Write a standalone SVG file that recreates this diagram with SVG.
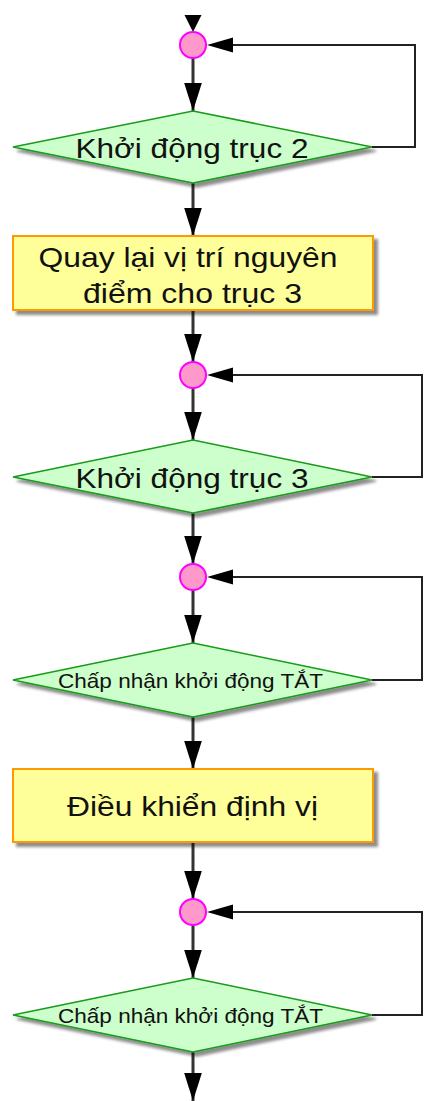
<svg xmlns="http://www.w3.org/2000/svg" width="424" height="1101" viewBox="0 0 424 1101">
<style>
.dia{fill:#ccffcc;stroke:#1a9a1a;stroke-width:1.6}
.box{fill:#ffff99;stroke:#ff9900;stroke-width:2}
.jn{fill:#ff99cc;stroke:#ff00ff;stroke-width:2}
.ln{fill:none;stroke:#333;stroke-width:3}
.lp{fill:none;stroke:#222;stroke-width:2}
.t{font-family:"Liberation Sans",Arial,sans-serif;fill:#111;text-anchor:middle}
.big{font-size:28px}
.sm{font-size:21px}
</style>
<defs>
<filter id="sh" x="-10%" y="-10%" width="130%" height="140%">
<feGaussianBlur in="SourceAlpha" stdDeviation="1.5"/>
<feOffset dx="4" dy="4" result="o"/>
<feFlood flood-color="#000" flood-opacity="0.45"/>
<feComposite in2="o" operator="in"/>
<feMerge><feMergeNode/><feMergeNode in="SourceGraphic"/></feMerge>
</filter>
<marker id="av" markerUnits="userSpaceOnUse" markerWidth="18" markerHeight="28" refX="8.5" refY="27" orient="0" viewBox="0 0 17 27">
<path d="M0,0 L17,0 L8.5,27 z" fill="#000"/>
</marker>
</defs>

<g id="connectors">
<path d="M184.5,15 L201.5,15 L193,32 z" fill="#000"/>
<path class="ln" d="M193,58 V111" marker-end="url(#av)"/>
<path class="lp" d="M372,147 H415 V45 H233"/>
<path d="M207,45 L233,37.5 L233,52.5 z" fill="#000"/>
<path class="ln" d="M193,183 V236" marker-end="url(#av)"/>
<path class="ln" d="M193,310 V362" marker-end="url(#av)"/>
<path class="ln" d="M193,388 V440" marker-end="url(#av)"/>
<path class="lp" d="M372,477 H422 V375 H233"/>
<path d="M207,375 L233,367.5 L233,382.5 z" fill="#000"/>
<path class="ln" d="M193,513 V564" marker-end="url(#av)"/>
<path class="ln" d="M193,590 V643" marker-end="url(#av)"/>
<path class="lp" d="M372,680 H422 V577 H233"/>
<path d="M207,577 L233,569.5 L233,584.5 z" fill="#000"/>
<path class="ln" d="M193,717 V769" marker-end="url(#av)"/>
<path class="ln" d="M193,842 V899" marker-end="url(#av)"/>
<path class="ln" d="M193,925 V978" marker-end="url(#av)"/>
<path class="lp" d="M372,1015 H422 V912 H233"/>
<path d="M207,912 L233,904.5 L233,919.5 z" fill="#000"/>
<path class="ln" d="M193,1052 V1101" marker-end="url(#av)"/>
</g>

<g id="j1"><circle class="jn" cx="193" cy="45" r="13"/></g>
<g id="d1">
<polygon class="dia" filter="url(#sh)" points="193,111 372,147 193,183 13,147"/>
<text class="t big" x="192" y="158" textLength="233" lengthAdjust="spacingAndGlyphs">Khởi động trục 2</text>
</g>
<g id="r1">
<rect class="box" filter="url(#sh)" x="13" y="236" width="360" height="74"/>
<text class="t big" x="188" y="267" textLength="299" lengthAdjust="spacingAndGlyphs">Quay lại vị trí nguyên</text>
<text class="t big" x="192.5" y="303" textLength="219" lengthAdjust="spacingAndGlyphs">điểm cho trục 3</text>
</g>
<g id="j2"><circle class="jn" cx="193" cy="375" r="13"/></g>
<g id="d2">
<polygon class="dia" filter="url(#sh)" points="193,440 372,477 193,513 13,477"/>
<text class="t big" x="192" y="488" textLength="233" lengthAdjust="spacingAndGlyphs">Khởi động trục 3</text>
</g>
<g id="j3"><circle class="jn" cx="193" cy="577" r="13"/></g>
<g id="d3">
<polygon class="dia" filter="url(#sh)" points="193,643 372,680 193,717 13,680"/>
<text class="t sm" x="190.5" y="688" textLength="265" lengthAdjust="spacingAndGlyphs">Chấp nhận khởi động TẮT</text>
</g>
<g id="r2">
<rect class="box" filter="url(#sh)" x="13" y="769" width="360" height="73"/>
<text class="t big" x="192.5" y="816" textLength="251" lengthAdjust="spacingAndGlyphs">Điều khiển định vị</text>
</g>
<g id="j4"><circle class="jn" cx="193" cy="912" r="13"/></g>
<g id="d4">
<polygon class="dia" filter="url(#sh)" points="193,978 372,1015 193,1052 13,1015"/>
<text class="t sm" x="190.5" y="1023" textLength="265" lengthAdjust="spacingAndGlyphs">Chấp nhận khởi động TẮT</text>
</g>
</svg>
